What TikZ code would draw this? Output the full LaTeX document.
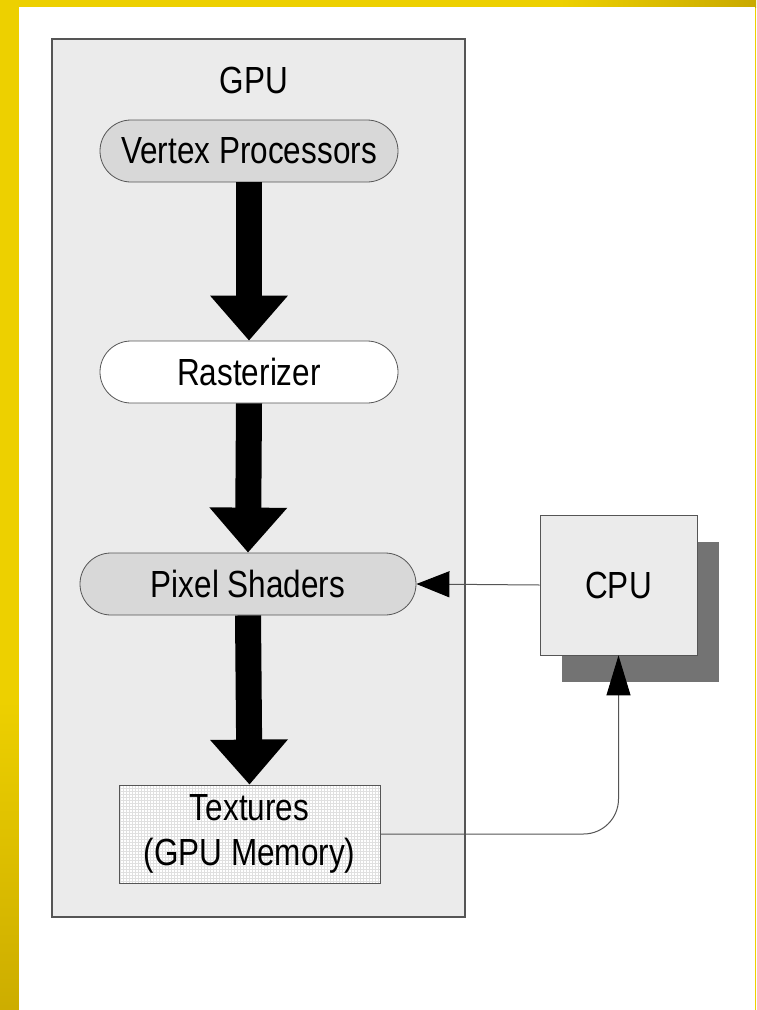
\documentclass[tikz,border=0pt]{standalone}
\usepackage{fontspec}
\setmainfont{Liberation Sans}
\usetikzlibrary{arrows.meta,patterns}
\definecolor{gold}{HTML}{EDD000}
\definecolor{darkgold}{HTML}{C9A900}
\definecolor{panel}{HTML}{EBEBEB}
\definecolor{pillgray}{HTML}{D8D8D8}
\definecolor{edge}{HTML}{555555}
\definecolor{shadowgray}{HTML}{737373}
% labels are set slightly taller than wide
\newcommand{\tallword}[1]{\scalebox{1}[1.2]{#1}}
\tikzset{
  label text/.style={font=\fontsize{31.5}{45}\selectfont, text=black},
  pill/.style={label text, draw=edge, line width=0.8pt, rounded corners=31pt,
    minimum height=62pt, inner sep=0pt},
  flow/.style={line width=26pt, black,
    -{Triangle[width=75pt,length=45pt]}},
  thin link/.style={draw=edge, line width=1pt},
}
\begin{document}
\begin{tikzpicture}[x=1pt,y=-1pt]
  % backdrop: gold frame with the white page
  \useasboundingbox (0,0) rectangle (756,1010);
  \fill[gold] (0,0) rectangle (756,1010);
  \shade[left color=gold, right color=darkgold] (560,0) rectangle (756,7);
  \shade[top color=gold, bottom color=darkgold!90!gold] (0,700) rectangle (19,1010);
  \fill[white] (19,7) rectangle (754.5,1010);

  % GPU enclosure
  \draw[edge, line width=1.3pt, fill=panel] (52,39) rectangle (465,917);
  \node[label text] (gpu) at (254,80) {\tallword{GPU}};

  % pipeline stages
  \node[pill, fill=pillgray, minimum width=298pt] (vp)  at (249,151) {\tallword{Vertex Processors}};
  \node[pill, fill=white,    minimum width=298pt] (ras) at (249,372) {\tallword{Rasterizer}};
  \node[pill, fill=pillgray, minimum width=336pt] (ps)  at (248,584) {\tallword{Pixel Shaders}};
  \node[label text, draw=edge, line width=0.8pt, minimum width=261pt,
        minimum height=98pt, inner sep=0pt, align=center,
        preaction={fill=white}, preaction={pattern=grid, pattern color=black!12}]
        (tex) at (249.5,834) {\tallword{Textures}\\\tallword{(GPU Memory)}};

  % CPU with its drop shadow
  \fill[shadowgray] (562,542) rectangle (719,682);
  \node[label text, draw=edge, line width=0.8pt, fill=panel, minimum width=157pt,
        minimum height=140pt, inner sep=0pt] (cpu) at (618.5,585) {\tallword{CPU}};

  % data flow through the pipeline
  \draw[flow] (vp.south) -- (ras.north);
  \draw[flow] (ras.south) -- (ps.north);
  \draw[flow] (ps.south) -- (tex.north);

  % links between CPU and GPU
  \draw[thin link, -{Triangle[width=26pt,length=33pt,fill=black,color=black]}]
    (cpu.west) -- (ps.east);
  \draw[thin link, rounded corners=35pt,
        -{Triangle[width=24pt,length=40pt,fill=black,color=black]}]
    (tex.east) -| (cpu.south);
\end{tikzpicture}
\end{document}
